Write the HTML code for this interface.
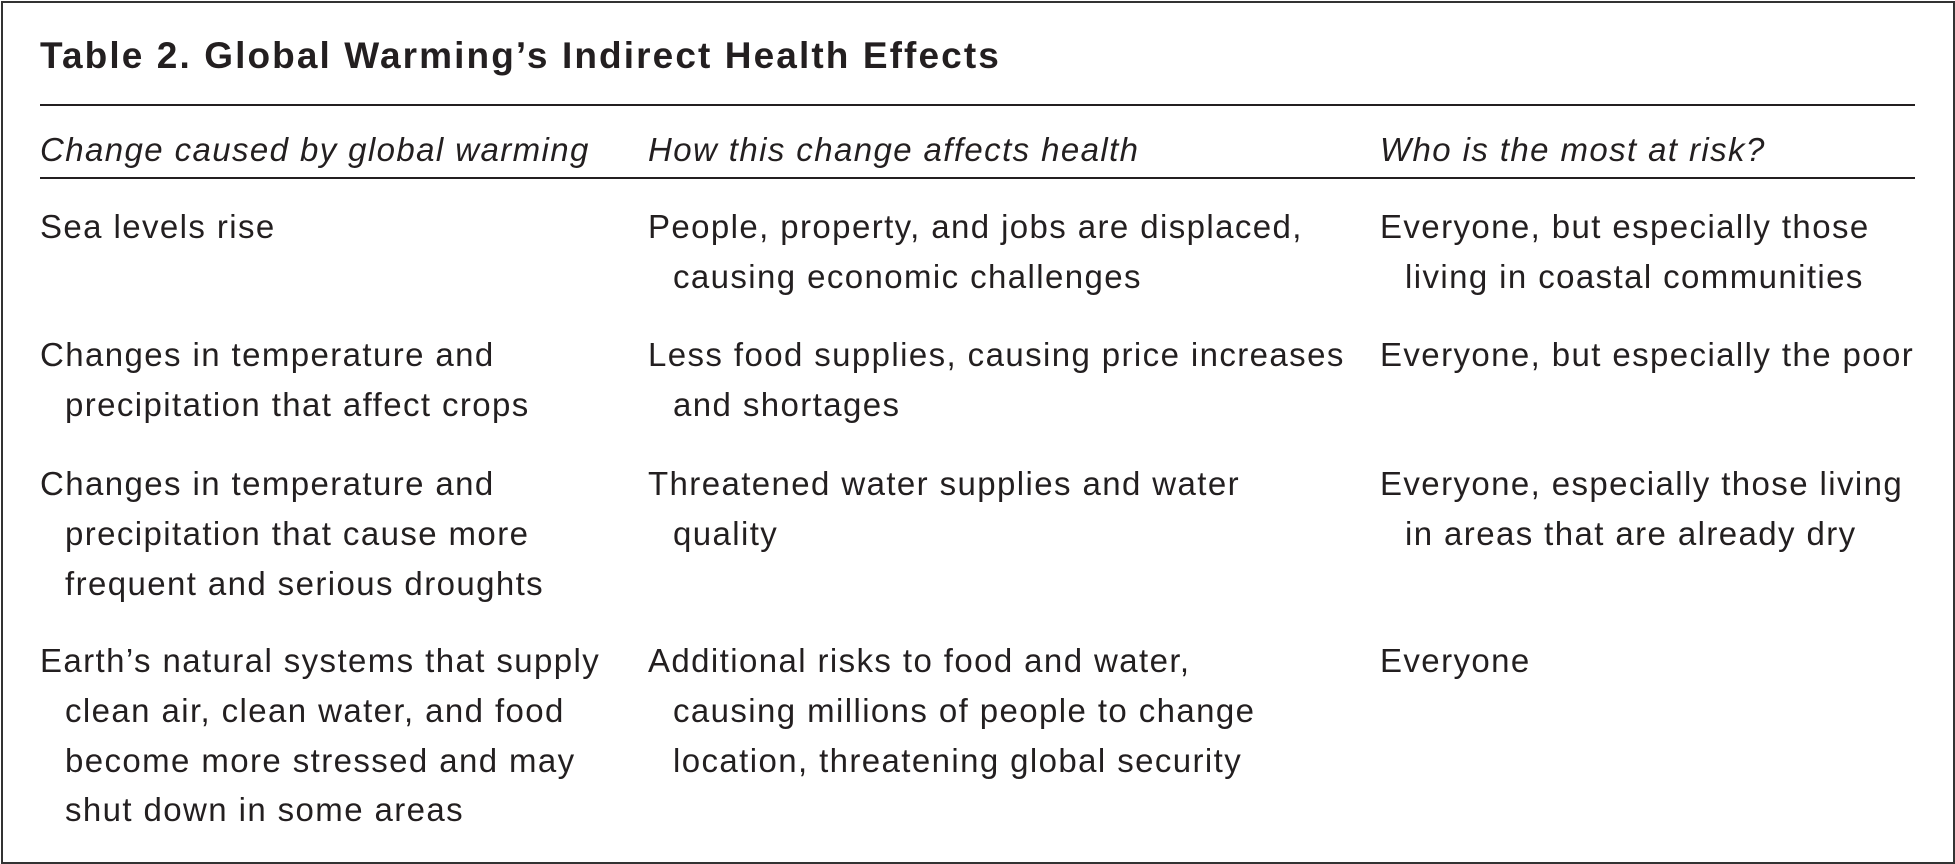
<!DOCTYPE html>
<html><head><meta charset="utf-8"><style>
body{margin:0;background:#fff;}
#c{position:relative;width:1955px;height:864px;overflow:hidden;font-family:"Liberation Sans",sans-serif;color:#231f20;}
.b{position:absolute;left:1px;top:1px;width:1950px;height:859px;border:2px solid #333;}
.t{position:absolute;white-space:nowrap;font-size:33px;letter-spacing:1.4px;line-height:50px;}
.h{font-style:italic;}
.r{position:absolute;left:40px;width:1875px;background:#231f20;height:2px;}
</style></head><body><div id="c">
<div class="b"></div>
<div class="t" style="left:40px;top:31px;font-size:37px;letter-spacing:2.1px;font-weight:bold;">Table 2. Global Warming’s Indirect Health Effects</div>
<div class="r" style="top:104px;"></div>
<div class="t h" style="left:40px;top:125px;">Change caused by global warming</div>
<div class="t h" style="left:648px;top:125px;">How this change affects health</div>
<div class="t h" style="left:1380px;top:125px;">Who is the most at risk?</div>
<div class="r" style="top:177px;"></div>

<div class="t" style="left:40px;top:202px;">Sea levels rise</div>
<div class="t" style="left:648px;top:202px;">People, property, and jobs are displaced,</div>
<div class="t" style="left:673px;top:252px;">causing economic challenges</div>
<div class="t" style="left:1380px;top:202px;">Everyone, but especially those</div>
<div class="t" style="left:1405px;top:252px;">living in coastal communities</div>

<div class="t" style="left:40px;top:330px;">Changes in temperature and</div>
<div class="t" style="left:65px;top:380px;">precipitation that affect crops</div>
<div class="t" style="left:648px;top:330px;">Less food supplies, causing price increases</div>
<div class="t" style="left:673px;top:380px;">and shortages</div>
<div class="t" style="left:1380px;top:330px;">Everyone, but especially the poor</div>

<div class="t" style="left:40px;top:459px;">Changes in temperature and</div>
<div class="t" style="left:65px;top:509px;">precipitation that cause more</div>
<div class="t" style="left:65px;top:559px;">frequent and serious droughts</div>
<div class="t" style="left:648px;top:459px;">Threatened water supplies and water</div>
<div class="t" style="left:673px;top:509px;">quality</div>
<div class="t" style="left:1380px;top:459px;">Everyone, especially those living</div>
<div class="t" style="left:1405px;top:509px;">in areas that are already dry</div>

<div class="t" style="left:40px;top:636px;">Earth’s natural systems that supply</div>
<div class="t" style="left:65px;top:686px;">clean air, clean water, and food</div>
<div class="t" style="left:65px;top:736px;">become more stressed and may</div>
<div class="t" style="left:65px;top:785px;">shut down in some areas</div>
<div class="t" style="left:648px;top:636px;">Additional risks to food and water,</div>
<div class="t" style="left:673px;top:686px;">causing millions of people to change</div>
<div class="t" style="left:673px;top:736px;">location, threatening global security</div>
<div class="t" style="left:1380px;top:636px;">Everyone</div>
</div></body></html>
